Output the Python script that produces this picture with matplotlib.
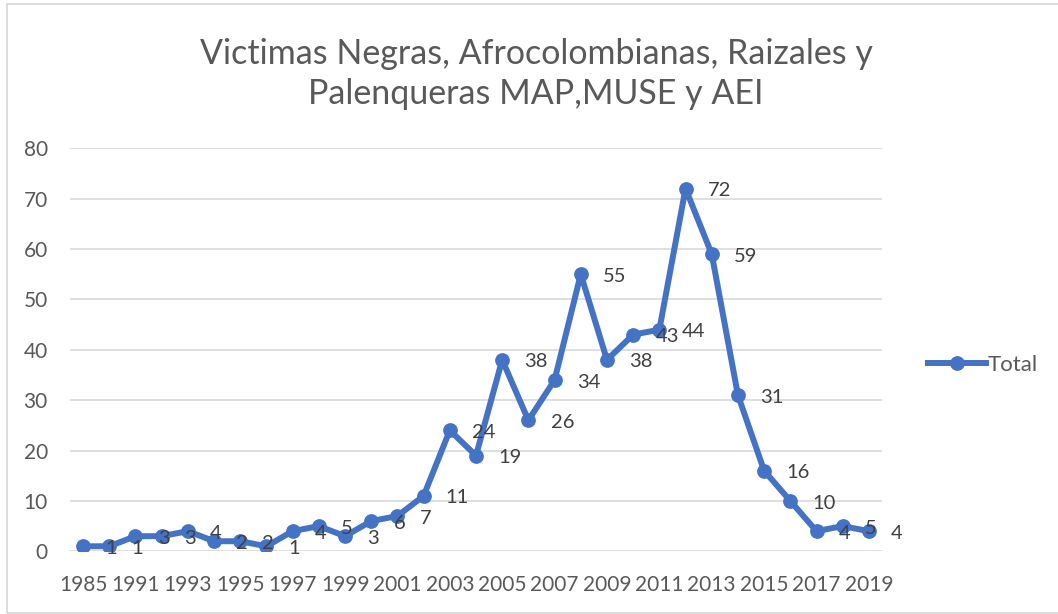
import matplotlib.pyplot as plt
from matplotlib.patches import Rectangle

years = ["1985"] + [str(y) for y in range(1990, 2020)]
total = [1, 1, 3, 3, 4, 2, 2, 1, 4, 5, 3, 6, 7, 11, 24, 19, 38, 26, 34, 55,
         38, 43, 44, 72, 59, 31, 16, 10, 4, 5, 4]
y_ticks = [0, 10, 20, 30, 40, 50, 60, 70, 80]
title = "Victimas Negras, Afrocolombianas, Raizales y\nPalenqueras MAP,MUSE y AEI"

BLUE = "#4472C4"
TEXT = "#595959"
LABEL = "#404040"
GRID = "#D9D9D9"

plt.rcParams["font.family"] = ["Lato", "DejaVu Sans"]

fig = plt.figure(figsize=(10.58, 6.14), dpi=100)
W, H = 1058, 614
ax = fig.add_axes([70 / W, 1 - 551.3 / H, (882 - 70) / W, (551.3 - 148.3) / H])

x = list(range(len(years)))
line, = ax.plot(x, total, color=BLUE, lw=4.3, marker="o", ms=9.6,
                solid_joinstyle="round", label="Total", zorder=3)

for xi, v in zip(x, total):
    ax.annotate(str(v), (xi, v), xytext=(16, -1.5), textcoords="offset points",
                ha="left", va="center", fontsize=14.5, color=LABEL, zorder=4)

ax.set_xlim(-0.5, len(years) - 0.5)
ax.set_ylim(0, 80)
ax.set_yticks(y_ticks)
ax.set_xticks(x[::2])
ax.set_xticklabels(years[::2])
ax.tick_params(axis="both", length=0, labelsize=15, colors=TEXT)
ax.tick_params(axis="y", pad=16)
ax.tick_params(axis="x", pad=17)
ax.grid(axis="y", color=GRID, lw=1.2)
ax.set_axisbelow(True)
for s in ax.spines.values():
    s.set_visible(False)

fig.text(536 / W, 1 - 74 / H, title, ha="center", va="center",
         fontsize=24.5, color=TEXT, linespacing=1.3)

ax.legend(handles=[line], loc="center left", frameon=False,
          bbox_to_anchor=(928 / W, 1 - 365 / H), bbox_transform=fig.transFigure,
          fontsize=16, labelcolor=TEXT, handlelength=2.6, handletextpad=0.1,
          borderpad=0, borderaxespad=0)

fig.patches.append(Rectangle((7 / W, 1 / H), 1.1, 1 - 5 / H, transform=fig.transFigure,
                             fill=False, edgecolor=GRID, lw=1.3))

fig.savefig("out.png", dpi=100)
